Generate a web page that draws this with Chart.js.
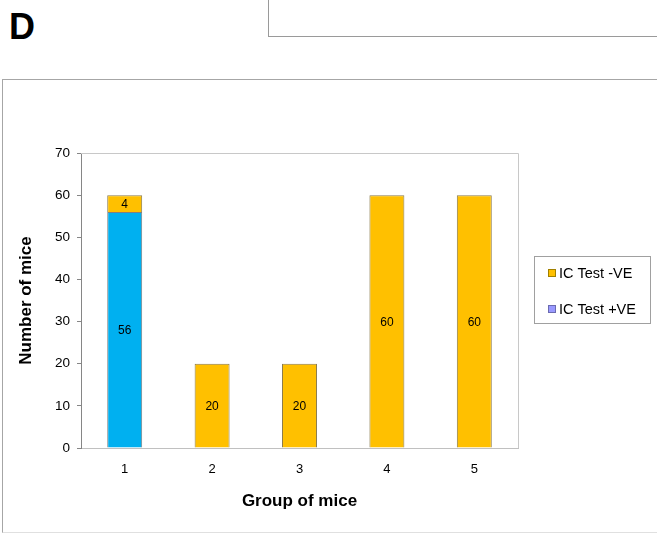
<!DOCTYPE html>
<html>
<head>
<meta charset="utf-8">
<script src="https://cdn.jsdelivr.net/npm/chart.js@4.4.1/dist/chart.umd.min.js"></script>
<style>
  html, body { margin: 0; padding: 0; background: #fff; }
  body { width: 657px; height: 534px; position: relative; overflow: hidden; font-family: "Liberation Sans", Arial, sans-serif; }
  #letter { position: absolute; left: 9px; top: 5px; font-size: 36px; font-weight: bold; color: #000; line-height: 44px; }
  #topbox { position: absolute; left: 268px; top: -2px; width: 400px; height: 37px; border: 1px solid #9a9a9a; }
  #frame { position: absolute; left: 2px; top: 79px; width: 670px; height: 452px; border: 1px solid #a6a6a6; border-bottom-color: #e0e0e0; }
  #wrap { position: absolute; left: 0; top: 0; width: 657px; height: 534px; }
</style>
</head>
<body>
<div id="letter">D</div>
<div id="topbox"></div>
<div id="frame"></div>
<div id="wrap"><canvas id="miceChart" width="657" height="534"></canvas></div>
<script>
// Data
const groups = ['1', '2', '3', '4', '5'];
const positiveMice = [56, 0, 0, 0, 0];   // IC Test +VE
const negativeMice = [4, 20, 20, 60, 60]; // IC Test -VE
const yTicks = [0, 10, 20, 30, 40, 50, 60, 70];

// plot area box (top + right light border)
const plotBox = {
  id: 'plotBox',
  beforeDatasetsDraw(chart) {
    const { ctx, chartArea: a } = chart;
    ctx.save();
    ctx.strokeStyle = '#c8c8c8';
    ctx.lineWidth = 1;
    ctx.beginPath();
    ctx.moveTo(a.left, a.top + 0.5);
    ctx.lineTo(a.right + 0.5, a.top + 0.5);
    ctx.lineTo(a.right + 0.5, a.bottom);
    ctx.stroke();
    ctx.restore();
  }
};

// numbers in the middle of each segment
const barLabels = {
  id: 'barLabels',
  afterDatasetsDraw(chart) {
    const ctx = chart.ctx;
    ctx.save();
    ctx.font = '12px "Liberation Sans", Arial, sans-serif';
    ctx.fillStyle = '#000';
    ctx.textAlign = 'center';
    ctx.textBaseline = 'middle';
    chart.data.datasets.forEach((ds, i) => {
      chart.getDatasetMeta(i).data.forEach((bar, j) => {
        if (!ds.data[j]) return;
        const p = bar.getProps(['x', 'y', 'base'], true);
        ctx.fillText(ds.data[j], p.x, (p.y + p.base) / 2 + 1);
      });
    });
    ctx.restore();
  }
};

// boxed legend on the right
const boxLegend = {
  id: 'boxLegend',
  afterDraw(chart) {
    const ctx = chart.ctx;
    ctx.save();
    ctx.strokeStyle = '#a0a0a0';
    ctx.lineWidth = 1;
    ctx.strokeRect(534.5, 256.5, 116, 67);
    ctx.font = '14.5px "Liberation Sans", Arial, sans-serif';
    ctx.textBaseline = 'middle';
    const items = chart.data.datasets.slice().reverse();
    items.forEach((ds, k) => {
      const cy = 273 + k * 36;
      ctx.fillStyle = ds.legendColor;
      ctx.fillRect(548, cy - 4, 8, 8);
      ctx.strokeStyle = ds.legendBorder;
      ctx.strokeRect(548.5, cy - 3.5, 7, 7);
      ctx.fillStyle = '#000';
      ctx.fillText(ds.label, 559, cy + 1);
    });
    ctx.restore();
  }
};

const ctx = document.getElementById('miceChart').getContext('2d');
const miceChart = new Chart(ctx, {
  type: 'bar',
  data: {
    labels: groups,
    datasets: [
      {
        label: 'IC Test +VE',
        data: positiveMice,
        backgroundColor: '#00b0f0',
        borderColor: '#808080',
        borderWidth: 1,
        legendColor: '#9999ff',
        legendBorder: '#6b6bb0'
      },
      {
        label: 'IC Test -VE',
        data: negativeMice,
        backgroundColor: '#ffc000',
        borderColor: '#8a7a4a',
        borderWidth: 1,
        legendColor: '#ffc000',
        legendBorder: '#a08000'
      }
    ]
  },
  options: {
    responsive: false,
    animation: false,
    categoryPercentage: 1,
    barPercentage: 0.4,
    layout: { padding: { left: 8, top: 153, right: 139, bottom: 16 } },
    plugins: {
      legend: { display: false },
      tooltip: { enabled: false }
    },
    scales: {
      x: {
        stacked: true,
        grid: { display: false, drawTicks: false },
        border: { color: '#c0c0c0' },
        ticks: { color: '#000', padding: 14, font: { size: 13, family: '"Liberation Sans", Arial, sans-serif' } },
        title: {
          display: true,
          text: 'Group of mice',
          color: '#000',
          font: { size: 17, weight: 'bold', family: '"Liberation Sans", Arial, sans-serif' },
          padding: { top: 0, bottom: 6 }
        },
        afterFit(scale) { scale.height = 70; }
      },
      y: {
        stacked: true,
        min: 0,
        max: 70,
        afterBuildTicks(scale) { scale.ticks = yTicks.map(v => ({ value: v })); },
        grid: { drawOnChartArea: false, drawTicks: true, tickLength: 4, color: '#868686' },
        border: { color: '#868686' },
        ticks: { color: '#000', padding: 7, font: { size: 13.5, family: '"Liberation Sans", Arial, sans-serif' } },
        title: {
          display: true,
          text: 'Number of mice',
          color: '#000',
          font: { size: 17, weight: 'bold', family: '"Liberation Sans", Arial, sans-serif' },
          padding: { top: 8, bottom: 0 }
        },
        afterFit(scale) { scale.width = 73; }
      }
    }
  },
  plugins: [plotBox, barLabels, boxLegend]
});
</script>
</body>
</html>
